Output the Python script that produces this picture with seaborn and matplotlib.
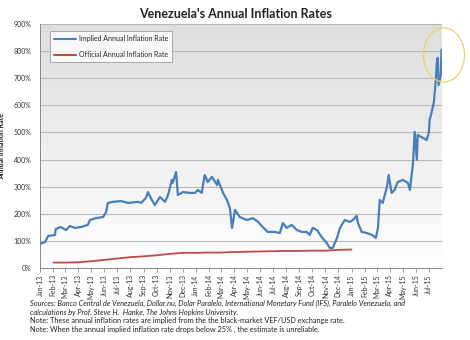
import numpy as np
import pandas as pd
import matplotlib
matplotlib.use("Agg")
import matplotlib.pyplot as plt
import matplotlib.dates as mdates
from matplotlib.patches import Ellipse
from matplotlib.lines import Line2D
import seaborn as sns

# ---- data ----
implied_dates = [
    "2013-01-01", "2013-01-13", "2013-01-20", "2013-02-05", "2013-02-07", "2013-02-19",
    "2013-03-03", "2013-03-12", "2013-03-24", "2013-04-07", "2013-04-23", "2013-04-28",
    "2013-05-12", "2013-05-29", "2013-06-05", "2013-06-09", "2013-06-21", "2013-07-10",
    "2013-07-26", "2013-08-19", "2013-08-26", "2013-09-06", "2013-09-11", "2013-09-20",
    "2013-09-27", "2013-10-09", "2013-10-21", "2013-10-28", "2013-11-06", "2013-11-08",
    "2013-11-16", "2013-11-20", "2013-12-02", "2013-12-18", "2013-12-30", "2014-01-06",
    "2014-01-15", "2014-01-22", "2014-01-29", "2014-02-08", "2014-02-20", "2014-02-22",
    "2014-03-06", "2014-03-15", "2014-03-22", "2014-03-27", "2014-04-03", "2014-04-14",
    "2014-05-01", "2014-05-15", "2014-05-27", "2014-06-07", "2014-06-19", "2014-07-05",
    "2014-07-17", "2014-07-24", "2014-08-02", "2014-08-14", "2014-08-26", "2014-09-07",
    "2014-09-18", "2014-09-25", "2014-10-02", "2014-10-12", "2014-10-23", "2014-11-04",
    "2014-11-11", "2014-11-18", "2014-11-28", "2014-12-05", "2014-12-16", "2014-12-28",
    "2015-01-04", "2015-01-13", "2015-01-16", "2015-01-25", "2015-02-06", "2015-02-18",
    "2015-02-27", "2015-03-04", "2015-03-08", "2015-03-15", "2015-03-25", "2015-03-29",
    "2015-04-05", "2015-04-12", "2015-04-19", "2015-05-01", "2015-05-13", "2015-05-18",
    "2015-05-25", "2015-05-29", "2015-06-03", "2015-06-05", "2015-06-17", "2015-06-26",
    "2015-07-01", "2015-07-03", "2015-07-08", "2015-07-13", "2015-07-17", "2015-07-20",
    "2015-07-22", "2015-07-24", "2015-07-29", "2015-07-31",
]
implied_rate = [
    89, 96, 118, 122, 144, 151,
    140, 155, 148, 151, 159, 177,
    184, 188, 207, 240, 244, 247,
    240, 244, 240, 258, 280, 251,
    232, 262, 244, 269, 325, 314,
    354, 269, 280, 277, 277, 288,
    277, 343, 317, 336, 306, 325,
    277, 251, 221, 148, 214, 188,
    177, 184, 170, 151, 133, 133,
    129, 166, 148, 159, 140, 133,
    133, 122, 148, 140, 114, 92,
    74, 74, 111, 148, 177, 170,
    177, 192, 166, 133, 129, 122,
    111, 148, 251, 240, 299, 343,
    277, 288, 317, 325, 314, 288,
    387, 502, 399, 491, 480, 472,
    498, 546, 576, 612, 686, 760,
    775, 675, 712, 805,
]

official_dates = [
    "2013-02-01", "2013-03-01", "2013-04-01", "2013-05-01", "2013-06-01", "2013-07-01",
    "2013-08-01", "2013-09-01", "2013-10-01", "2013-11-01", "2013-12-01", "2014-01-01",
    "2014-02-01", "2014-03-01", "2014-04-01", "2014-05-01", "2014-06-01", "2014-07-01",
    "2014-08-01", "2014-09-01", "2014-10-01", "2014-11-01", "2014-12-01", "2015-01-01",
]
official_rate = [
    20, 20, 21, 25, 30, 35,
    40, 43, 47, 52, 56, 56,
    57, 57, 59, 60, 61, 62,
    63, 63, 64, 64, 67, 68,
]

tick_months = pd.date_range("2013-01-01", "2015-07-01", freq="MS")
tick_labels = [d.strftime("%b-%y") for d in tick_months]

title = "Venezuela's Annual Inflation Rates"
ylabel = "Annual Inflation Rate"
series_names = ["Implied Annual Inflation Rate", "Official Annual Inflation Rate"]
footnotes = [
    "Sources: Banco Central de Venezuela, Dollar.nu, Dolar Paralelo, International Monetary Fund (IFS), Paralelo Venezuela, and",
    "calculations by Prof. Steve H.  Hanke, The Johns Hopkins University.",
    "Note: These annual inflation rates are implied from the the black-market VEF/USD exchange rate.",
    "Note: When the annual implied inflation rate drops below 25% , the estimate is unreliable.",
]

df = pd.concat([
    pd.DataFrame({"date": pd.to_datetime(implied_dates), "rate": implied_rate, "series": series_names[0]}),
    pd.DataFrame({"date": pd.to_datetime(official_dates), "rate": official_rate, "series": series_names[1]}),
], ignore_index=True)

# ---- figure ----
sns.set_theme(style="white")
plt.rcParams["font.family"] = ["Lato", "DejaVu Sans"]

fig = plt.figure(figsize=(4.7, 3.4), dpi=100)
fig.patch.set_facecolor("white")
ax = fig.add_axes([40 / 470, 1 - 268 / 340, (442 - 40) / 470, (268 - 24) / 340])

# gradient background
grad = np.linspace(1.0, 0.0, 256).reshape(-1, 1)
ax.imshow(grad, extent=[0, 1, 0, 1], transform=ax.transAxes, aspect="auto",
          cmap=matplotlib.colors.LinearSegmentedColormap.from_list("g", ["#ffffff", "#dedede"]),
          zorder=0, interpolation="bicubic")

palette = {series_names[0]: "#4A7EBB", series_names[1]: "#BE4B48"}
sns.lineplot(data=df, x="date", y="rate", hue="series", palette=palette, ax=ax,
             linewidth=1.5, legend=False, zorder=3)
for line, lw in zip(ax.get_lines(), [1.6, 1.3]):
    line.set_linewidth(lw)

ax.set_xlim(pd.Timestamp("2013-01-01"), pd.Timestamp("2015-08-01"))
ax.set_ylim(0, 900)
ax.set_yticks(range(0, 1000, 100))
ax.set_yticklabels([f"{v}%" for v in range(0, 1000, 100)])
ax.yaxis.grid(True, color="#b8b8b8", linewidth=0.8)
ax.set_axisbelow(True)

ax.set_xticks(mdates.date2num(tick_months))
ax.set_xticklabels(tick_labels)
ax.tick_params(axis="x", labelsize=5, rotation=90, length=3, width=0.6, color="#888888",
               labelcolor="#333333", pad=1.5, bottom=True)
ax.tick_params(axis="y", labelsize=5, labelcolor="#333333", length=0, pad=6)
for lab in ax.get_xticklabels():
    lab.set_horizontalalignment("center")

for s in ["top", "right"]:
    ax.spines[s].set_visible(False)
for s in ["left", "bottom"]:
    ax.spines[s].set_color("#888888")
    ax.spines[s].set_linewidth(0.7)

ax.set_xlabel("")
ax.set_ylabel(ylabel, fontsize=5, fontweight="bold", color="#222222", labelpad=6)

# legend
handles = [Line2D([0], [0], color=palette[n], lw=1.5) for n in series_names]
leg = ax.legend(handles, series_names, loc="upper left", bbox_to_anchor=(0.015, 0.985),
                fontsize=5, frameon=True, fancybox=False, edgecolor="#888888",
                handlelength=3.2, borderpad=0.6, labelspacing=1.3, handletextpad=0.4)
leg.get_frame().set_linewidth(0.6)
leg.get_frame().set_facecolor("white")

# title
fig.text(236 / 470, 1 - 14 / 340, title, ha="center", va="center", fontsize=9,
         fontweight="bold", color="#222222")

# highlight ellipse
fig.patches.append(Ellipse((444 / 470, 1 - 55 / 340), 41 / 470, 54 / 340,
                           transform=fig.transFigure, fill=False, edgecolor="#E6D36A",
                           linewidth=0.9, zorder=10))

# footnotes
ys = [303, 312, 320, 329]
styles = ["italic", "italic", "normal", "normal"]
for t, y, st in zip(footnotes, ys, styles):
    fig.text(30 / 470, 1 - y / 340, t, ha="left", va="center", fontsize=5.3, style=st,
             color="#222222")

fig.savefig("out.png", dpi=100)
